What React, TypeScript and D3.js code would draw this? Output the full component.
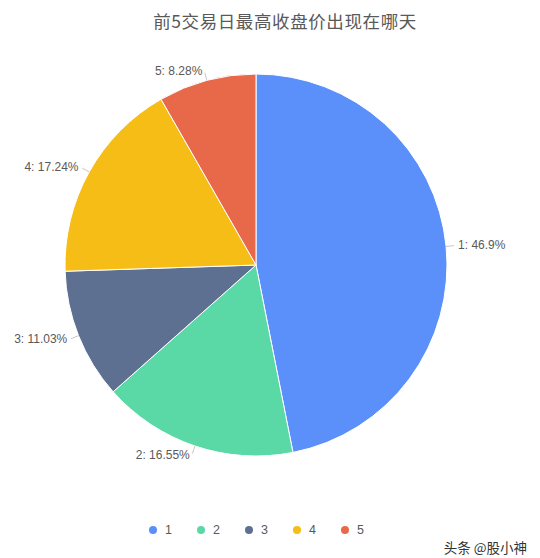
import React from "react";
import * as d3 from "d3";

const categories = ["1", "2", "3", "4", "5"];
const values = [46.9, 16.55, 11.03, 17.24, 8.28];
const labels = ["1: 46.9%", "2: 16.55%", "3: 11.03%", "4: 17.24%", "5: 8.28%"];
const colors = ["#5B8FF9", "#5AD8A6", "#5D7092", "#F6BD16", "#E8684A"];

const title = "前5交易日最高收盘价出现在哪天";
const watermark = "头条 @股小神";

export default function App() {
  const width = 540;
  const height = 558;
  const cx = 256;
  const cy = 265;
  const r = 191;

  const data = categories.map((c, i) => ({ name: c, value: values[i], label: labels[i] }));

  const pie = d3
    .pie<{ name: string; value: number; label: string }>()
    .sort(null)
    .value((d) => d.value);
  const arcs = pie(data);
  const arc = d3.arc<d3.PieArcDatum<any>>().innerRadius(0).outerRadius(r);

  const color = d3.scaleOrdinal<string, string>().domain(categories).range(colors);
  const legendX = d3.scalePoint<string>().domain(categories).range([153, 345]);

  return (
    <svg
      width={width}
      height={height}
      style={{ position: "absolute", left: 0, top: 0, background: "#fff" }}
    >
      <text
        x={285}
        y={20}
        textAnchor="middle"
        dominantBaseline="central"
        fontFamily="'Noto Sans CJK SC', sans-serif"
        fontSize={17.5}
        letterSpacing={0.6}
        fill="#595959"
      >
        {title}
      </text>

      <g transform={`translate(${cx},${cy})`}>
        {arcs.map((a) => (
          <path
            key={a.data.name}
            d={arc(a) || ""}
            fill={color(a.data.name)}
            stroke="#fff"
            strokeWidth={1}
          />
        ))}
        {arcs.map((a) => {
          const mid = (a.startAngle + a.endAngle) / 2;
          const dx = Math.sin(mid);
          const dy = -Math.cos(mid);
          const right = dx >= 0;
          return (
            <g key={"l" + a.data.name}>
              <line
                x1={dx * r}
                y1={dy * r}
                x2={dx * (r + 8)}
                y2={dy * (r + 8)}
                stroke="#c8c8c8"
                strokeWidth={1}
              />
              <text
                x={dx * (r + 10) + (right ? 2 : -2)}
                y={dy * (r + 10)}
                textAnchor={right ? "start" : "end"}
                dominantBaseline="central"
                fontFamily="'Liberation Sans', Arial, sans-serif"
                fontSize={12}
                fill="#595959"
              >
                {a.data.label}
              </text>
            </g>
          );
        })}
      </g>

      <g>
        {categories.map((c) => (
          <g key={"lg" + c} transform={`translate(${legendX(c)},530)`}>
            <circle r={4} fill={color(c)} />
            <text
              x={12}
              dominantBaseline="central"
              fontFamily="'Liberation Sans', Arial, sans-serif"
              fontSize={12.5}
              fill="#595959"
            >
              {c}
            </text>
          </g>
        ))}
      </g>

      <text
        x={527}
        y={547}
        textAnchor="end"
        dominantBaseline="central"
        fontFamily="'Noto Sans CJK SC', sans-serif"
        fontSize={13.5}
        fill="#333"
      >
        {watermark}
      </text>
    </svg>
  );
}
